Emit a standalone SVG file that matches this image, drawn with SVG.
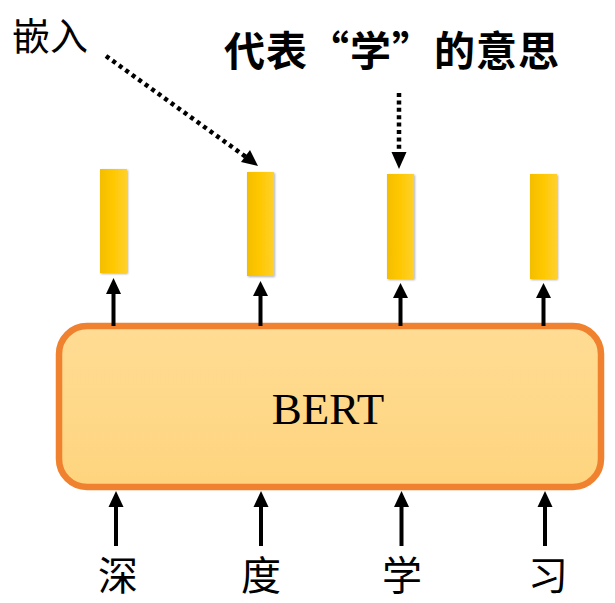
<svg xmlns="http://www.w3.org/2000/svg" width="615" height="603" viewBox="0 0 615 603">
<style>
.cjk{font-family:"Noto Sans CJK SC","Noto Sans CJK JP",sans-serif;fill:#000}
.bar{fill:url(#barg)}
.arr{stroke:#000;stroke-width:4;fill:none}
.head{fill:#000}
</style>
<defs>
<linearGradient id="barg" x1="0" y1="0" x2="1" y2="0">
<stop offset="0" stop-color="#F3BE00"/>
<stop offset="0.5" stop-color="#FFC800"/>
<stop offset="1" stop-color="#FFD030"/>
</linearGradient>
<linearGradient id="boxg" x1="0" y1="0" x2="0" y2="1">
<stop offset="0" stop-color="#FFDC94"/>
<stop offset="1" stop-color="#FED47E"/>
</linearGradient>
<filter id="sh" x="-30%" y="-10%" width="160%" height="120%">
<feDropShadow dx="1" dy="1" stdDeviation="1" flood-color="#000" flood-opacity="0.3"/>
</filter>
</defs>
<g id="bert">
<rect x="59" y="326" width="542" height="161" rx="28" fill="url(#boxg)" stroke="#F0812E" stroke-width="6.5"/>
<text x="328" y="424" font-family="Liberation Serif, serif" font-size="45" text-anchor="middle">BERT</text>
</g>
<g id="emb1"><rect class="bar" x="100" y="169" width="27" height="104" filter="url(#sh)"/></g>
<g id="emb2"><rect class="bar" x="247" y="172" width="27" height="104" filter="url(#sh)"/></g>
<g id="emb3"><rect class="bar" x="387" y="174" width="27" height="105" filter="url(#sh)"/></g>
<g id="emb4"><rect class="bar" x="530" y="174" width="27" height="105" filter="url(#sh)"/></g>
<g id="label-embed"><text class="cjk" x="12" y="50" font-size="38">嵌入</text></g>
<g id="label-meaning"><text class="cjk" x="224" y="66" font-size="41" font-weight="bold" letter-spacing="1">代表“学”的意思</text></g>
<g id="tok1"><text class="cjk" x="118" y="590" font-size="40" text-anchor="middle">深</text></g>
<g id="tok2"><text class="cjk" x="261" y="590" font-size="40" text-anchor="middle">度</text></g>
<g id="tok3"><text class="cjk" x="402" y="590" font-size="40" text-anchor="middle">学</text></g>
<g id="tok4"><text class="cjk" x="548" y="590" font-size="40" text-anchor="middle">习</text></g>
<g id="connectors">
<line class="arr" x1="113.5" y1="326" x2="113.5" y2="290"/>
<polygon class="head" points="113.5,278 106,294 121,294"/>
<line class="arr" x1="260.5" y1="326" x2="260.5" y2="292"/>
<polygon class="head" points="260.5,281 253,296 268,296"/>
<line class="arr" x1="400.5" y1="326" x2="400.5" y2="294"/>
<polygon class="head" points="400.5,283 393,298 408,298"/>
<line class="arr" x1="543.5" y1="326" x2="543.5" y2="294"/>
<polygon class="head" points="543.5,283 536,298 551,298"/>
<line class="arr" x1="116" y1="546" x2="116" y2="503"/>
<polygon class="head" points="116,491 108.5,507 123.5,507"/>
<line class="arr" x1="261" y1="546" x2="261" y2="503"/>
<polygon class="head" points="261,491 253.5,507 268.5,507"/>
<line class="arr" x1="401.5" y1="546" x2="401.5" y2="503"/>
<polygon class="head" points="401.5,491 394,507 409,507"/>
<line class="arr" x1="545" y1="546" x2="545" y2="503"/>
<polygon class="head" points="545,491 537.5,507 552.5,507"/>
<line x1="106" y1="56" x2="246" y2="157" stroke="#000" stroke-width="4.5" stroke-dasharray="4 4"/>
<polygon class="head" points="258,166 241,162 250,150"/>
<line x1="399" y1="93" x2="399" y2="152" stroke="#000" stroke-width="4.5" stroke-dasharray="4 3.4"/>
<polygon class="head" points="399,169 391.5,152 406.5,152"/>
</g>
</svg>
